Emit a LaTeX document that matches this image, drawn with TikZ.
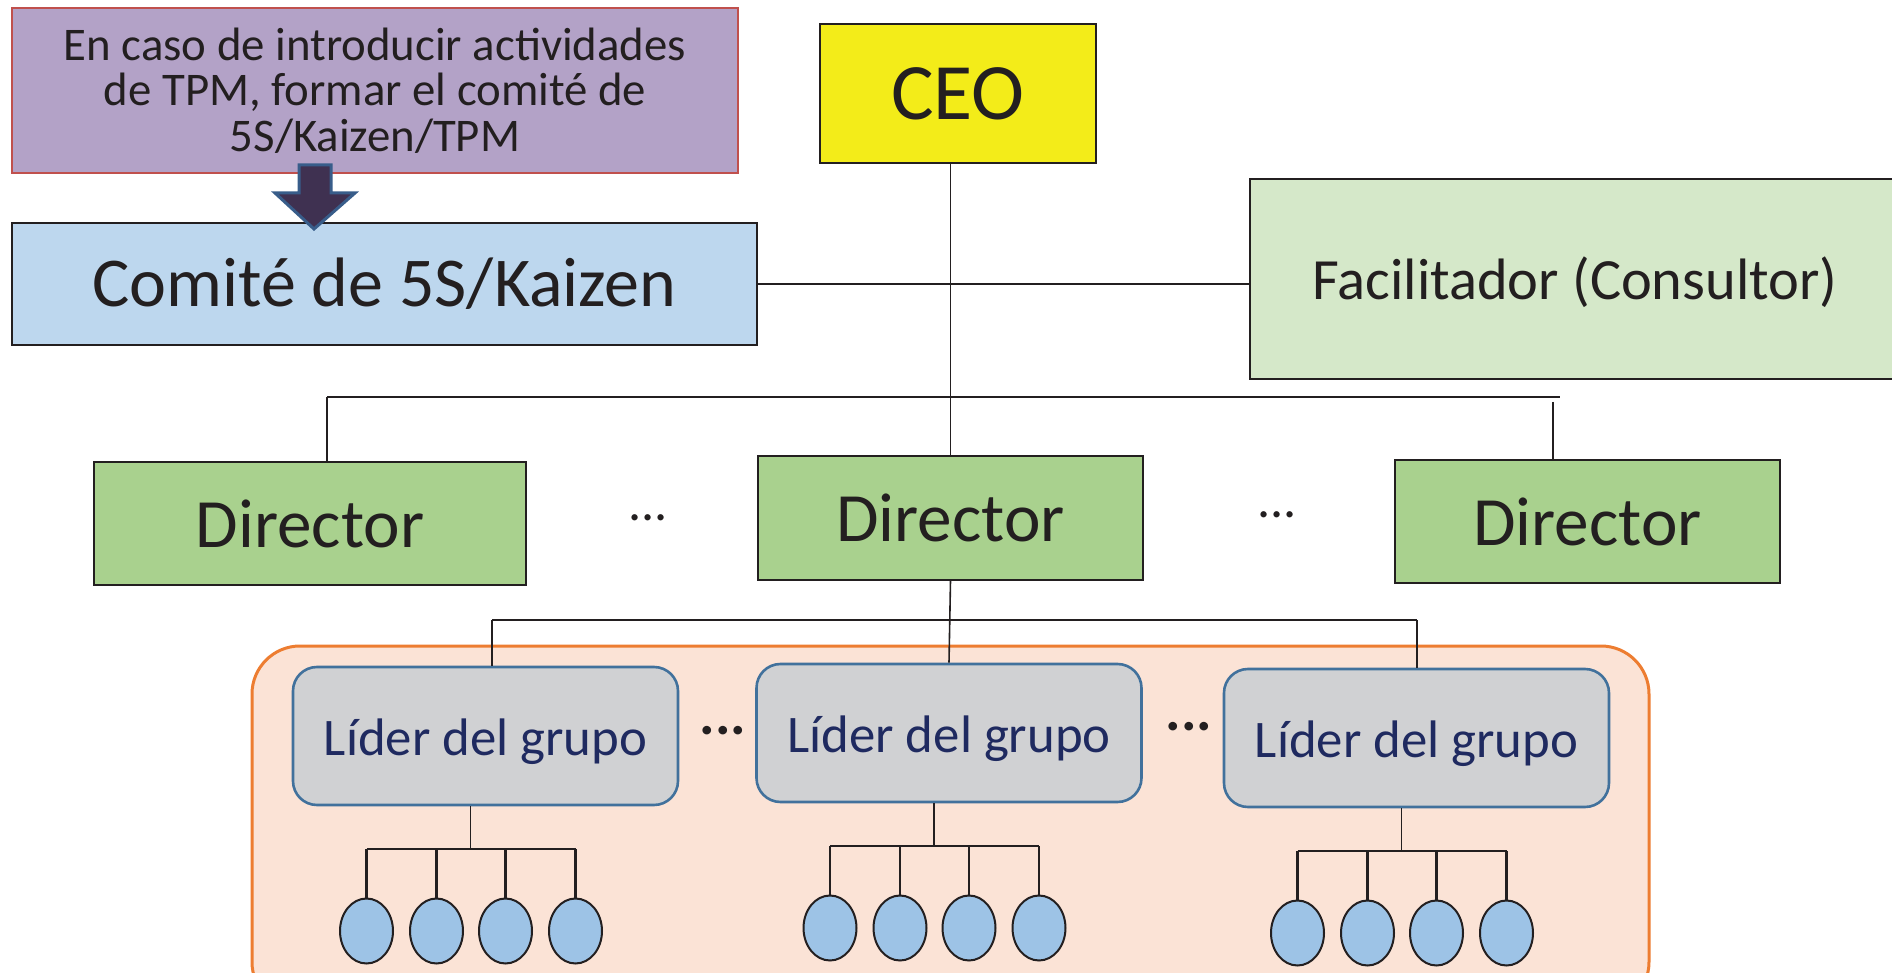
\documentclass[tikz,border=0pt]{standalone}
\usepackage{fontspec}
\setmainfont{Carlito}
\usetikzlibrary{shapes.geometric}
\definecolor{lila}{HTML}{B3A2C7}
\definecolor{rojoborde}{HTML}{C0504D}
\definecolor{flechafondo}{HTML}{3F3151}
\definecolor{flechaborde}{HTML}{385D8A}
\definecolor{celeste}{HTML}{BDD7EE}
\definecolor{amarillo}{HTML}{F3EC19}
\definecolor{verdeclaro}{HTML}{D5E8C9}
\definecolor{verdedir}{HTML}{A9D18E}
\definecolor{salmon}{HTML}{FBE3D6}
\definecolor{naranja}{HTML}{ED7D31}
\definecolor{grislider}{HTML}{D0D1D3}
\definecolor{azulborde}{HTML}{41719C}
\definecolor{marino}{HTML}{1F2A60}
\definecolor{azulmiembro}{HTML}{9DC3E6}
\definecolor{tinta}{HTML}{231F20}
\tikzset{
  caja/.style={draw=tinta, line width=1pt, align=center, inner sep=0pt, text=tinta},
  director/.style={caja, fill=verdedir, minimum width=#1, minimum height=61.5pt, font=\fontsize{34.6}{40}\selectfont},
  director/.default=192.5pt,
  lider/.style={draw=azulborde, line width=1.3pt, rounded corners=12pt, fill=grislider, text=marino, inner sep=0pt, minimum width=192.5pt, minimum height=69pt, text height=19pt, text depth=0pt, font=\fontsize{26.4}{30}\selectfont},
  miembro/.style={ellipse, draw=tinta, line width=1pt, fill=azulmiembro, inner sep=0pt, minimum width=26.5pt, minimum height=32.5pt},
  puntos/.style={inner sep=0pt, text=tinta, font=\fontsize{26}{30}\selectfont},
  linea/.style={draw=tinta, line width=0.8pt},
}

\begin{document}
\begin{tikzpicture}[x=0.5pt, y=-0.5pt]
  \useasboundingbox (0,0) rectangle (1892,973);
  \clip (0,0) rectangle (1892,973);
  % equipo de mejora
  \draw[draw=naranja, line width=1.5pt, fill=salmon, rounded corners=24pt] (252,646) rectangle (1649,1010);
  \node[caja, draw=rojoborde, fill=lila, minimum width=363pt, minimum height=82.5pt, font=\fontsize{23.4}{22.75}\selectfont] (tpm) at (375,90.5) {En caso de introducir actividades\\de TPM, formar el comité de\\5S/Kaizen/TPM};
  \node[caja, fill=celeste, minimum width=372.5pt, minimum height=61pt, font=\fontsize{35}{40}\selectfont] (comite) at (384.5,284) {Comité de 5S/Kaizen};
  \node[caja, fill=amarillo, minimum width=138pt, minimum height=69.5pt, font=\fontsize{40}{46}\selectfont] (ceo) at (958,93.5) {CEO};
  \node[caja, fill=verdeclaro, minimum width=325pt, minimum height=100pt, text height=20.6pt, text depth=0pt, font=\fontsize{29.2}{34}\selectfont] (facil) at (1575,279) {Facilitador (Consultor)};
  % flecha
  \draw[line width=1.5pt, draw=flechaborde, fill=flechafondo, line join=miter] (299,165) -- (331,165) -- (331,193) -- (355,193) -- (314,229) -- (275,193) -- (299,193) -- cycle;
  % directores
  \node[director=216pt] (dirA) at (310,523.5) {Director};
  \node[director] (dirB) at (950.5,518) {Director};
  \node[director] (dirC) at (1587.5,521.5) {Director};
  \node[puntos] (p1) at (648,518) {...};
  \node[puntos] (p2) at (1277,515) {...};
  % lideres
  \node[lider] (lidA) at (485.5,736) {Líder del grupo};
  \node[lider] (lidB) at (949,733) {Líder del grupo};
  \node[lider] (lidC) at (1416.5,738) {Líder del grupo};
  \node[puntos, font=\fontsize{29}{30}\bfseries] (p3) at (723,731) {...};
  \node[puntos, font=\fontsize{29}{30}\bfseries] (p4) at (1189,727) {...};
  % conexiones
  \draw[linea] (comite.east) -- (comite.east -| facil.west);
  \draw[linea] (dirB.north |- ceo.south) -- (dirB.north);
  \coordinate (busL) at (327,397);
  \coordinate (busR) at (1560,397);
  \coordinate (caidaR) at (1553,402);
  \draw[linea] (busL) -- (busR);
  \draw[linea] (busL) -- (busL |- dirA.north);
  \draw[linea] (caidaR) -- (caidaR |- dirC.north);
  \draw[linea] (dirB.south) -- (lidB.north);
  \coordinate (bus2L) at (492,620);
  \coordinate (bus2R) at (1417,620);
  \draw[linea] (bus2L) -- (bus2R);
  \draw[linea] (bus2L) -- (bus2L |- lidA.north);
  \draw[linea] (bus2R) -- (bus2R |- lidC.north);
  % miembros de cada grupo
  \foreach \l in {lidA,lidB,lidC} {
    \draw[linea] ([xshift=-7.5pt]\l.south) -- ++(0,43) coordinate (\l-hub);
    \foreach \dx [count=\i] in {-119,-49,20,90}
      \node[miembro] (\l-m\i) at ([shift={(\dx,195)}]\l.center) {};
    \draw[linea, line width=1.1pt] (\l-m1.north |- \l-hub) -- (\l-m4.north |- \l-hub);
    \foreach \i in {1,...,4}
      \draw[linea, line width=1.1pt] (\l-m\i.north |- \l-hub) -- (\l-m\i.north);
  }
\end{tikzpicture}
\end{document}
